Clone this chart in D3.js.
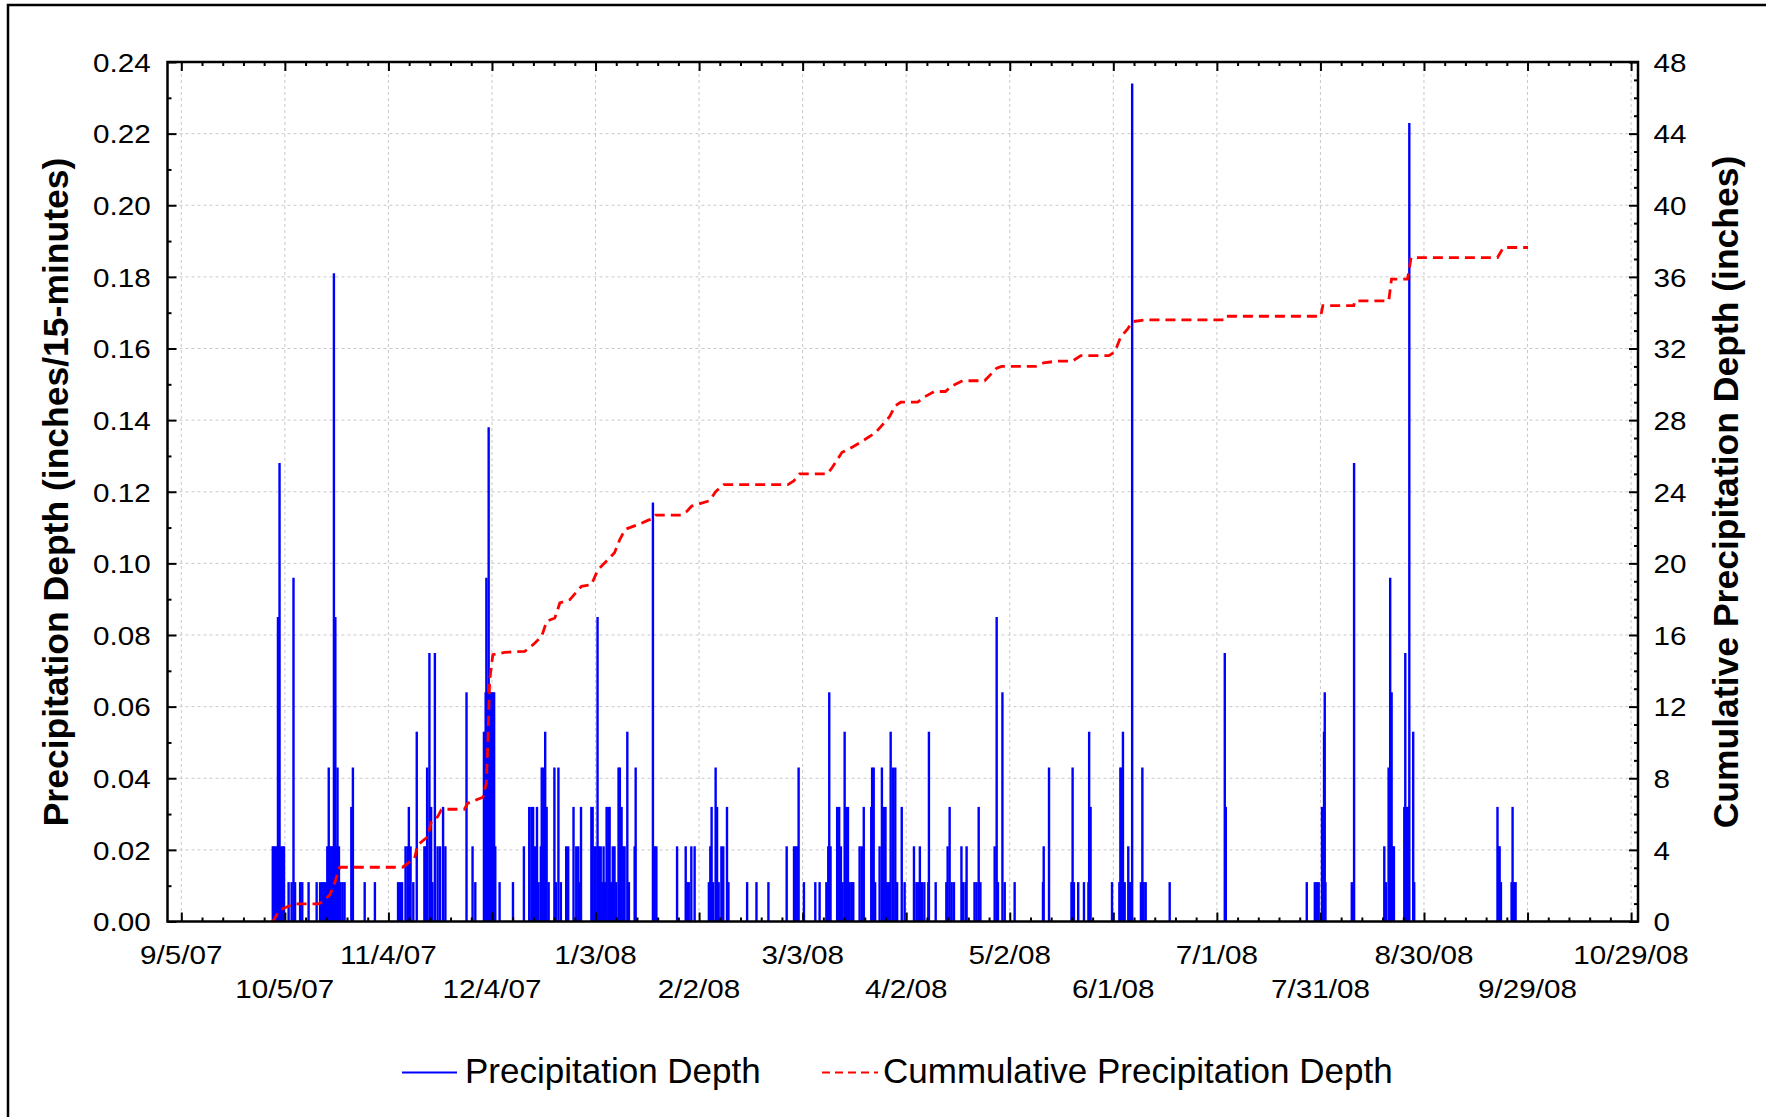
<!DOCTYPE html>
<html><head><meta charset="utf-8">
<script src="https://cdn.jsdelivr.net/npm/d3@7"></script>
<style>
html,body{margin:0;padding:0;background:#fff;}
svg{display:block;}
text{font-family:"Liberation Sans", Arial, sans-serif;fill:#000;}
</style></head><body>
<svg id="chart" width="1766" height="1117"></svg>
<script>
// ---------- DATA ----------
// 15-minute precipitation depth (inches): [time "YYYY-MM-DD HH", depth]
const precipitation = [
["2007-10-01 12",0.021],["2007-10-01 21",0.021],["2007-10-02 07",0.021],["2007-10-02 19",0.021],
["2007-10-03 00",0.085],["2007-10-03 11",0.128],["2007-10-03 22",0.021],["2007-10-04 10",0.021],
["2007-10-04 18",0.021],["2007-10-06 02",0.011],["2007-10-06 23",0.011],["2007-10-07 12",0.096],
["2007-10-07 23",0.011],["2007-10-09 10",0.011],["2007-10-10 01",0.011],["2007-10-11 21",0.011],
["2007-10-14 05",0.011],["2007-10-15 05",0.011],["2007-10-15 19",0.011],["2007-10-16 09",0.011],
["2007-10-16 23",0.011],["2007-10-17 07",0.021],["2007-10-17 17",0.043],["2007-10-18 03",0.021],
["2007-10-18 12",0.021],["2007-10-18 21",0.021],["2007-10-19 05",0.181],["2007-10-19 15",0.085],
["2007-10-19 23",0.021],["2007-10-20 06",0.043],["2007-10-20 16",0.021],["2007-10-21 03",0.011],
["2007-10-21 17",0.011],["2007-10-22 07",0.011],["2007-10-24 06",0.032],["2007-10-24 17",0.043],
["2007-10-28 03",0.011],["2007-10-31 02",0.011],
["2007-11-06 19",0.011],["2007-11-07 09",0.011],["2007-11-07 23",0.011],["2007-11-08 23",0.021],
["2007-11-09 13",0.021],["2007-11-09 22",0.032],["2007-11-10 10",0.021],["2007-11-11 05",0.011],
["2007-11-12 05",0.053],["2007-11-14 10",0.021],["2007-11-14 21",0.021],["2007-11-15 05",0.043],
["2007-11-15 21",0.075],["2007-11-16 09",0.032],["2007-11-16 18",0.011],["2007-11-17 11",0.075],
["2007-11-18 06",0.021],["2007-11-18 23",0.021],["2007-11-19 20",0.032],["2007-11-20 12",0.021],
["2007-11-26 15",0.064],["2007-11-28 09",0.021],["2007-11-29 04",0.011],
["2007-12-01 16",0.053],["2007-12-02 04",0.064],["2007-12-02 09",0.096],["2007-12-02 18",0.064],
["2007-12-03 01",0.138],["2007-12-03 10",0.064],["2007-12-03 20",0.064],["2007-12-04 05",0.064],
["2007-12-04 15",0.064],["2007-12-04 23",0.021],["2007-12-06 05",0.011],["2007-12-10 02",0.011],
["2007-12-13 06",0.021],["2007-12-14 19",0.032],["2007-12-15 10",0.032],["2007-12-15 22",0.032],
["2007-12-16 12",0.021],["2007-12-17 01",0.032],["2007-12-17 12",0.011],["2007-12-18 04",0.021],
["2007-12-18 10",0.043],["2007-12-18 22",0.043],["2007-12-19 10",0.053],["2007-12-19 20",0.032],
["2007-12-20 10",0.011],["2007-12-22 02",0.043],["2007-12-22 12",0.011],["2007-12-23 06",0.043],
["2007-12-23 23",0.011],["2007-12-25 12",0.021],["2007-12-26 02",0.021],["2007-12-27 15",0.032],
["2007-12-28 10",0.021],["2007-12-29 00",0.021],["2007-12-29 10",0.011],["2007-12-29 19",0.032],
["2008-01-01 19",0.032],["2008-01-02 04",0.032],["2008-01-02 16",0.021],["2008-01-03 01",0.021],
["2008-01-03 14",0.085],["2008-01-03 23",0.021],["2008-01-04 12",0.021],["2008-01-04 23",0.011],
["2008-01-05 08",0.021],["2008-01-05 17",0.011],["2008-01-06 05",0.032],["2008-01-06 17",0.032],
["2008-01-07 02",0.032],["2008-01-07 13",0.011],["2008-01-08 00",0.021],["2008-01-08 12",0.021],
["2008-01-09 00",0.011],["2008-01-09 16",0.043],["2008-01-10 01",0.043],["2008-01-10 13",0.032],
["2008-01-11 01",0.021],["2008-01-11 10",0.021],["2008-01-12 05",0.053],["2008-01-12 16",0.011],
["2008-01-14 08",0.021],["2008-01-14 15",0.043],["2008-01-19 15",0.117],["2008-01-20 03",0.021],
["2008-01-20 15",0.021],["2008-01-26 15",0.021],["2008-01-29 03",0.021],["2008-01-29 12",0.011],
["2008-01-30 00",0.011],["2008-01-30 18",0.021],["2008-01-31 17",0.021],
["2008-02-04 20",0.011],["2008-02-05 06",0.021],["2008-02-05 15",0.032],["2008-02-06 02",0.011],
["2008-02-06 19",0.043],["2008-02-07 05",0.032],["2008-02-07 16",0.011],["2008-02-08 11",0.021],
["2008-02-09 00",0.021],["2008-02-10 02",0.032],["2008-02-10 12",0.011],["2008-02-15 22",0.011],
["2008-02-18 15",0.011],["2008-02-22 02",0.011],["2008-02-27 09",0.021],["2008-02-29 12",0.021],
["2008-02-29 23",0.021],
["2008-03-01 11",0.021],["2008-03-01 20",0.043],["2008-03-03 09",0.011],["2008-03-06 16",0.011],
["2008-03-07 22",0.011],["2008-03-09 21",0.011],["2008-03-10 10",0.021],["2008-03-10 17",0.064],
["2008-03-11 02",0.021],["2008-03-13 00",0.032],["2008-03-13 14",0.032],["2008-03-14 02",0.021],
["2008-03-14 14",0.011],["2008-03-15 04",0.053],["2008-03-15 13",0.032],["2008-03-16 03",0.032],
["2008-03-16 15",0.011],["2008-03-17 05",0.011],["2008-03-17 16",0.011],["2008-03-19 12",0.021],
["2008-03-20 03",0.021],["2008-03-20 17",0.032],["2008-03-22 21",0.032],["2008-03-23 03",0.043],
["2008-03-23 14",0.043],["2008-03-24 00",0.011],["2008-03-25 07",0.021],["2008-03-25 23",0.043],
["2008-03-26 12",0.032],["2008-03-27 00",0.032],["2008-03-27 12",0.011],["2008-03-27 23",0.011],
["2008-03-28 12",0.053],["2008-03-29 04",0.043],["2008-03-29 20",0.043],["2008-03-30 09",0.011],
["2008-03-31 17",0.032],
["2008-04-01 13",0.011],["2008-04-04 06",0.021],["2008-04-04 23",0.011],["2008-04-05 12",0.011],
["2008-04-05 23",0.021],["2008-04-06 13",0.011],["2008-04-07 06",0.011],["2008-04-08 10",0.011],
["2008-04-08 14",0.053],["2008-04-10 13",0.011],["2008-04-13 15",0.011],["2008-04-14 00",0.021],
["2008-04-14 14",0.032],["2008-04-15 04",0.011],["2008-04-15 20",0.011],["2008-04-18 00",0.021],
["2008-04-18 12",0.011],["2008-04-19 05",0.011],["2008-04-19 12",0.021],["2008-04-21 19",0.011],
["2008-04-22 09",0.011],["2008-04-23 00",0.032],["2008-04-23 12",0.011],["2008-04-27 15",0.021],
["2008-04-28 05",0.085],["2008-04-28 14",0.011],["2008-04-29 21",0.064],["2008-04-30 13",0.011],
["2008-05-03 10",0.011],["2008-05-11 15",0.011],["2008-05-11 20",0.021],["2008-05-13 09",0.043],
["2008-05-19 21",0.011],["2008-05-20 05",0.043],["2008-05-20 14",0.011],["2008-05-21 20",0.011],
["2008-05-23 12",0.011],["2008-05-24 19",0.011],["2008-05-25 00",0.053],["2008-05-25 10",0.032],
["2008-05-31 15",0.011],
["2008-06-02 18",0.011],["2008-06-03 01",0.043],["2008-06-03 10",0.043],["2008-06-03 19",0.053],
["2008-06-04 07",0.011],["2008-06-05 08",0.021],["2008-06-05 19",0.011],["2008-06-06 02",0.011],
["2008-06-06 11",0.234],["2008-06-09 00",0.011],["2008-06-09 10",0.043],["2008-06-09 19",0.011],
["2008-06-10 09",0.011],["2008-06-17 08",0.011],
["2008-07-03 07",0.075],["2008-07-03 14",0.032],["2008-07-27 01",0.011],["2008-07-29 09",0.011],
["2008-07-29 23",0.011],["2008-07-30 12",0.011],["2008-07-31 11",0.032],["2008-07-31 16",0.021],
["2008-08-01 01",0.053],["2008-08-01 06",0.064],["2008-08-01 11",0.011],["2008-08-09 02",0.011],
["2008-08-09 18",0.128],["2008-08-18 12",0.021],["2008-08-19 00",0.011],["2008-08-19 18",0.043],
["2008-08-20 05",0.096],["2008-08-20 15",0.064],["2008-08-21 00",0.021],["2008-08-21 07",0.021],
["2008-08-24 07",0.032],["2008-08-24 14",0.075],["2008-08-25 00",0.032],["2008-08-25 09",0.032],
["2008-08-25 18",0.223],["2008-08-26 21",0.053],["2008-08-27 04",0.011],
["2008-09-20 07",0.032],["2008-09-20 14",0.021],["2008-09-20 22",0.021],["2008-09-21 07",0.011],
["2008-09-24 09",0.011],["2008-09-24 16",0.032],["2008-09-25 02",0.011],["2008-09-25 13",0.011]
];

// Cumulative precipitation depth (inches): [time "YYYY-MM-DD HH", total]
const cumulative = [
["2007-10-01 07",0],["2007-10-01 19",0.08],["2007-10-03 11",0.64],["2007-10-06 20",0.92],
["2007-10-07 19",0.98],["2007-10-14 14",0.98],["2007-10-16 00",1.1],["2007-10-18 00",1.48],
["2007-10-19 10",2.13],["2007-10-20 10",2.79],["2007-10-20 22",3.03],["2007-11-08 02",3.03],
["2007-11-09 15",3.25],["2007-11-11 14",3.53],["2007-11-12 12",4.28],["2007-11-15 10",4.74],
["2007-11-16 10",5.58],["2007-11-18 07",5.86],["2007-11-19 07",6.23],["2007-11-20 05",6.27],
["2007-11-26 00",6.27],["2007-11-27 00",6.61],["2007-12-01 09",6.94],["2007-12-02 09",7.73],
["2007-12-02 20",10.15],["2007-12-03 08",13.5],["2007-12-04 06",14.9],["2007-12-07 16",15.03],
["2007-12-13 12",15.09],["2007-12-15 22",15.46],["2007-12-18 10",15.93],["2007-12-19 20",16.76],
["2007-12-22 05",16.95],["2007-12-23 16",17.79],["2007-12-26 14",17.98],["2007-12-29 22",18.72],
["2008-01-01 19",18.81],["2008-01-03 17",19.65],["2008-01-06 03",20.12],["2008-01-08 12",20.59],
["2008-01-09 23",21.3],["2008-01-11 14",21.9],["2008-01-15 19",22.2],["2008-01-18 03",22.4],
["2008-01-19 14",22.5],["2008-01-20 10",22.7],["2008-01-27 17",22.7],["2008-01-29 10",22.9],
["2008-01-30 21",23.2],["2008-02-01 14",23.3],["2008-02-05 01",23.5],["2008-02-06 19",24.0],
["2008-02-09 03",24.4],["2008-02-27 17",24.4],["2008-02-29 10",24.6],["2008-03-02 03",25.0],
["2008-03-10 06",25.0],["2008-03-11 17",25.4],["2008-03-14 10",26.2],["2008-03-16 14",26.4],
["2008-03-20 02",26.8],["2008-03-24 03",27.3],["2008-03-28 05",28.2],["2008-03-29 19",28.8],
["2008-03-31 10",29.0],["2008-04-05 08",29.0],["2008-04-07 08",29.3],["2008-04-10 05",29.6],
["2008-04-13 09",29.6],["2008-04-15 04",29.9],["2008-04-18 08",30.2],["2008-04-24 17",30.2],
["2008-04-28 05",30.9],["2008-04-29 15",31.0],["2008-05-09 12",31.0],["2008-05-11 20",31.2],
["2008-05-15 21",31.3],["2008-05-20 05",31.3],["2008-05-22 14",31.6],["2008-05-30 17",31.6],
["2008-06-01 10",31.8],["2008-06-03 01",32.6],["2008-06-05 04",33.1],["2008-06-06 14",33.5],
["2008-06-10 02",33.6],["2008-07-03 05",33.6],["2008-07-03 14",33.8],["2008-07-31 02",33.8],
["2008-07-31 17",34.4],["2008-08-09 16",34.4],["2008-08-09 23",34.66],["2008-08-19 19",34.66],
["2008-08-20 14",35.87],["2008-08-25 05",35.87],["2008-08-25 19",36.5],["2008-08-26 06",37.08],
["2008-09-20 07",37.08],["2008-09-22 00",37.64],["2008-09-29 03",37.64]
];

const xTickLabels = ["9/5/07","10/5/07","11/4/07","12/4/07","1/3/08","2/2/08","3/3/08","4/2/08",
  "5/2/08","6/1/08","7/1/08","7/31/08","8/30/08","9/29/08","10/29/08"];
const leftTickValues = [0,0.02,0.04,0.06,0.08,0.10,0.12,0.14,0.16,0.18,0.20,0.22,0.24];
const rightTickValues = [0,4,8,12,16,20,24,28,32,36,40,44,48];
const seriesNames = ["Precipitation Depth","Cummulative Precipitation Depth"];
const leftTitle = "Precipitation Depth (inches/15-minutes)";
const rightTitle = "Cumulative Precipitation Depth (inches)";

// ---------- LAYOUT ----------
const svg = d3.select("#chart");
const P = {left:167.5, right:1638, top:62, bottom:921.5};
const parseT = d3.timeParse("%Y-%m-%d %H");
const parseTick = d3.timeParse("%m/%d/%y");
const x = d3.scaleTime().domain([new Date(2007,8,1), new Date(2008,9,31)]).range([P.left, P.right]);
const yL = d3.scaleLinear().domain([0,0.24]).range([P.bottom, P.top]);
const yR = d3.scaleLinear().domain([0,48]).range([P.bottom, P.top]);

const tickDates = xTickLabels.map(parseTick);
const minorDates = [];
for (let i = 0; i < tickDates.length - 1; i++)
  for (let k = 1; k < 5; k++) minorDates.push(d3.timeDay.offset(tickDates[i], 6*k));
const leftMinor = d3.range(0.01, 0.24, 0.02);
const rightMinor = d3.range(0, 49).filter(v => v % 4 !== 0);

// outer frame (cropped at right/bottom in the reference)
svg.append("rect").attr("x",8).attr("y",5).attr("width",1850).attr("height",1200)
  .attr("fill","none").attr("stroke","#000").attr("stroke-width",2.5);

// grid
const grid = svg.append("g").attr("stroke","#c8c8c8").attr("stroke-width",1).attr("stroke-dasharray","3,3");
grid.selectAll("line.v").data(tickDates).join("line")
  .attr("x1",d=>x(d)).attr("x2",d=>x(d)).attr("y1",P.top).attr("y2",P.bottom);
grid.selectAll("line.h").data(leftTickValues.filter(v=>v>0 && v<0.24)).join("line")
  .attr("x1",P.left).attr("x2",P.right).attr("y1",d=>yL(d)).attr("y2",d=>yL(d));

// precipitation spikes
svg.append("g").selectAll("line").data(precipitation).join("line")
  .attr("x1",d=>x(parseT(d[0]))).attr("x2",d=>x(parseT(d[0])))
  .attr("y1",yL(0)).attr("y2",d=>yL(d[1]))
  .attr("stroke","#0000ff").attr("stroke-width",2.4);

// cumulative line
const cumLine = d3.line().x(d=>x(parseT(d[0]))).y(d=>yR(d[1]));
svg.append("path").datum(cumulative).attr("d",cumLine)
  .attr("fill","none").attr("stroke","#ff0000").attr("stroke-width",2.8)
  .attr("stroke-dasharray","10,6");

// axes ticks (inward) using d3 axes
function tickAxis(axisFn, scale, values, size, transform){
  const g = svg.append("g").attr("transform",transform)
    .call(axisFn(scale).tickValues(values).tickSize(size).tickFormat(""));
  g.select(".domain").remove();
  g.selectAll(".tick line").attr("stroke","#000").attr("stroke-width",2);
}
tickAxis(d3.axisBottom, x, tickDates, -9, `translate(0,${P.bottom})`);
tickAxis(d3.axisBottom, x, minorDates, -4, `translate(0,${P.bottom})`);
tickAxis(d3.axisTop, x, tickDates, -9, `translate(0,${P.top})`);
tickAxis(d3.axisTop, x, minorDates, -4, `translate(0,${P.top})`);
tickAxis(d3.axisLeft, yL, leftTickValues, -9, `translate(${P.left},0)`);
tickAxis(d3.axisLeft, yL, leftMinor, -4, `translate(${P.left},0)`);
tickAxis(d3.axisRight, yR, rightTickValues, -9, `translate(${P.right},0)`);
tickAxis(d3.axisRight, yR, rightMinor, -4, `translate(${P.right},0)`);

// plot frame
svg.append("rect").attr("x",P.left).attr("y",P.top)
  .attr("width",P.right-P.left).attr("height",P.bottom-P.top)
  .attr("fill","none").attr("stroke","#000").attr("stroke-width",2.5);

// tick labels
const TS = 26.5, SX = 1.12;
svg.append("g").selectAll("text").data(leftTickValues).join("text")
  .attr("transform",d=>`translate(150.7,${yL(d)+9.8}) scale(${SX},1)`)
  .attr("text-anchor","end").attr("font-size",TS).text(d3.format(".2f"));
svg.append("g").selectAll("text").data(rightTickValues).join("text")
  .attr("transform",d=>`translate(1653.5,${yR(d)+9.8}) scale(${SX},1)`)
  .attr("text-anchor","start").attr("font-size",TS).text(d=>d);
svg.append("g").selectAll("text").data(xTickLabels).join("text")
  .attr("transform",(d,i)=>`translate(${x(tickDates[i])},${i%2===0?964:998}) scale(${SX},1)`)
  .attr("text-anchor","middle").attr("font-size",TS).text(d=>d);

// axis titles
svg.append("text").attr("transform",`translate(68,492) rotate(-90)`)
  .attr("text-anchor","middle").attr("font-size",35.5).attr("font-weight","bold").text(leftTitle);
svg.append("text").attr("transform",`translate(1738,492) rotate(-90)`)
  .attr("text-anchor","middle").attr("font-size",35.5).attr("font-weight","bold").text(rightTitle);

// legend
const lg = svg.append("g");
lg.append("line").attr("x1",402).attr("x2",457).attr("y1",1072.5).attr("y2",1072.5)
  .attr("stroke","#0000ff").attr("stroke-width",2);
lg.append("text").attr("x",465).attr("y",1083).attr("font-size",35).text(seriesNames[0]);
lg.append("line").attr("x1",822).attr("x2",878).attr("y1",1072.5).attr("y2",1072.5)
  .attr("stroke","#ff0000").attr("stroke-width",2.2).attr("stroke-dasharray","8,5");
lg.append("text").attr("x",883).attr("y",1083).attr("font-size",35).text(seriesNames[1]);
</script>
</body></html>
